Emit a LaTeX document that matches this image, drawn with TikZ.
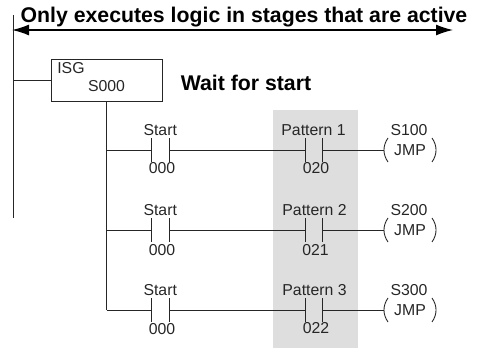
\documentclass[tikz,border=0pt]{standalone}
\usepackage{fontspec}
\setmainfont{Liberation Sans}
\usetikzlibrary{arrows.meta}
\definecolor{sombra}{gray}{0.87}
\tikzset{
    wire/.style={line width=0.5pt, black!85},
    contact/.style={minimum width=0.35cm, minimum height=0.48cm, inner sep=0pt, outer sep=0pt},
    coil/.style={minimum width=0.88cm, minimum height=0.48cm, inner sep=0pt, outer sep=0pt, font=\fontsize{9}{10}\selectfont, text=black!85},
    etiq/.style={inner sep=0pt, font=\fontsize{9}{10}\selectfont, text=black!85},
    titulo/.style={inner sep=0pt, font=\fontsize{12.1}{14}\selectfont\bfseries}
}
\begin{document}
\begin{tikzpicture}
    \useasboundingbox (0,0) rectangle (9.64,6.98);

    % Banda gris
    \fill[sombra] (5.46,0.02) rectangle (7.16,4.78);

    % Titulos
    \node[titulo] (lbltitle) at (4.88,6.63) {Only executes logic in stages that are active};
    \node[titulo] (lblwait) at (4.92,5.32) {Wait for start};

    % Flecha y riel
    \coordinate (arrowl) at (0.24,6.38);
    \coordinate (arrowr) at (9.06,6.38);
    \coordinate (railtop) at (0.27,6.68);
    \coordinate (railbot) at (0.27,2.62);
    \draw[line width=0.8pt, {Latex[length=0.34cm,width=0.22cm]}-{Latex[length=0.34cm,width=0.22cm]}] (arrowl) -- (arrowr);
    \draw[wire] (railtop) -- (railbot);

    % Caja ISG
    \node[draw, wire, minimum width=2.22cm, minimum height=0.84cm, inner sep=0pt] (isg) at (2.13,5.38) {};
    \node[etiq, anchor=west] (lblisg) at (1.14,5.62) {ISG};
    \node[etiq] (lbls) at (2.13,5.25) {S000};
    \draw[wire] (isg.west) -- (isg.west -| railtop);

    % Uniones
    \coordinate (j1) at (2.13,3.98);
    \coordinate (j2) at (2.13,2.38);
    \coordinate (j3) at (2.13,0.78);
    \draw[wire] (isg.south) -- (j3);

    % Contactos
    \node[contact] (st1) at (3.205,3.98) {};
    \node[contact] (st2) at (3.205,2.38) {};
    \node[contact] (st3) at (3.205,0.78) {};
    \node[contact] (pt1) at (6.28,3.98) {};
    \node[contact] (pt2) at (6.28,2.38) {};
    \node[contact] (pt3) at (6.28,0.78) {};
    \draw[wire] (st1.north west) -- (st1.south west) (st1.north east) -- (st1.south east);
    \draw[wire] (st2.north west) -- (st2.south west) (st2.north east) -- (st2.south east);
    \draw[wire] (st3.north west) -- (st3.south west) (st3.north east) -- (st3.south east);
    \draw[wire] (pt1.north west) -- (pt1.south west) (pt1.north east) -- (pt1.south east);
    \draw[wire] (pt2.north west) -- (pt2.south west) (pt2.north east) -- (pt2.south east);
    \draw[wire] (pt3.north west) -- (pt3.south west) (pt3.north east) -- (pt3.south east);

    % Bobinas
    \node[coil] (jmp1) at (8.2,3.98) {JMP};
    \node[coil] (jmp2) at (8.2,2.38) {JMP};
    \node[coil] (jmp3) at (8.2,0.78) {JMP};
    \draw[wire] (jmp1.north west) to[bend right=35] (jmp1.south west) (jmp1.north east) to[bend left=35] (jmp1.south east);
    \draw[wire] (jmp2.north west) to[bend right=35] (jmp2.south west) (jmp2.north east) to[bend left=35] (jmp2.south east);
    \draw[wire] (jmp3.north west) to[bend right=35] (jmp3.south west) (jmp3.north east) to[bend left=35] (jmp3.south east);

    % Lineas de cada escalon
    \draw[wire] (j1) -- (st1.west) (st1.east) -- (pt1.west) (pt1.east) -- ([xshift=-0.08cm]jmp1.west);
    \draw[wire] (j2) -- (st2.west) (st2.east) -- (pt2.west) (pt2.east) -- ([xshift=-0.08cm]jmp2.west);
    \draw[wire] (j3) -- (st3.west) (st3.east) -- (pt3.west) (pt3.east) -- ([xshift=-0.08cm]jmp3.west);

    % Etiquetas
    \node[etiq] (lblst1) at (3.205,4.38) {Start};
    \node[etiq] (lblst2) at (3.205,2.78) {Start};
    \node[etiq] (lblst3) at (3.205,1.18) {Start};
    \node[etiq] (lbla1) at (3.24,3.62) {000};
    \node[etiq] (lbla2) at (3.24,1.98) {000};
    \node[etiq] (lbla3) at (3.24,0.40) {000};
    \node[etiq] (lblpt1) at (6.27,4.38) {Pattern 1};
    \node[etiq] (lblpt2) at (6.29,2.78) {Pattern 2};
    \node[etiq] (lblpt3) at (6.29,1.18) {Pattern 3};
    \node[etiq] (lblb1) at (6.32,3.62) {020};
    \node[etiq] (lblb2) at (6.31,1.98) {021};
    \node[etiq] (lblb3) at (6.32,0.42) {022};
    \node[etiq] (lbls1) at (8.18,4.38) {S100};
    \node[etiq] (lbls2) at (8.18,2.78) {S200};
    \node[etiq] (lbls3) at (8.18,1.18) {S300};
\end{tikzpicture}
\end{document}
